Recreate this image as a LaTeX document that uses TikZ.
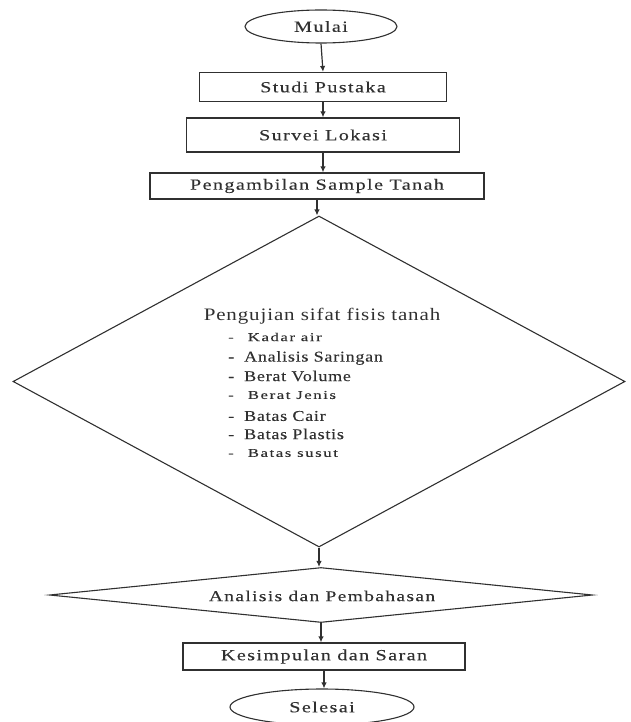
\documentclass[tikz,border=0pt]{standalone}
\usepackage{fontspec}
\setmainfont{Liberation Serif}
\newfontfamily\boxfont{Liberation Serif}[FakeStretch=1.3,LetterSpace=9,FakeBold=0.2]
\newfontfamily\titlefont{Liberation Serif}[FakeStretch=1.2,LetterSpace=5]
\newfontfamily\itemfont{Liberation Serif}[FakeStretch=1.2,LetterSpace=5,FakeBold=0.2]
\newfontfamily\smallfont{Liberation Serif}[FakeStretch=1.4,LetterSpace=13,FakeBold=0.2]
\usetikzlibrary{shapes.geometric,arrows.meta}
\definecolor{ink}{HTML}{303030}
\tikzset{
  x=1pt,y=-1pt,
  every node/.style={text=ink},
  termbox/.style={ellipse,draw=ink,line width=1.1pt,inner sep=0pt,font=\boxfont\fontsize{15.5}{17}\selectfont},
  procbox/.style={rectangle,draw=ink,line width=1.2pt,inner sep=0pt,font=\boxfont\fontsize{15.5}{17}\selectfont},
  decbox/.style={diamond,draw=ink,line width=1.1pt,inner sep=0pt,aspect=1},
  conn/.style={draw=ink,line width=1.2pt,-{Latex[length=6pt,width=5.5pt]}},
  item/.style={anchor=west,inner sep=0pt,font=\itemfont\fontsize{15}{16}\selectfont},
  smallitem/.style={anchor=west,inner sep=0pt,font=\smallfont\fontsize{12}{13}\selectfont}
}
\begin{document}
\begin{tikzpicture}
\useasboundingbox (0,0) rectangle (631,722);
\node[termbox,minimum width=152,minimum height=33] (mulai) at (321,26.5) {Mulai};
\node[procbox,minimum width=247,minimum height=29] (studi) at (323,87) {Studi Pustaka};
\node[procbox,minimum width=273,minimum height=34] (survei) at (323,135) {Survei Lokasi};
\node[procbox,minimum width=334,minimum height=26] (ambil) at (317,186) {Pengambilan Sample Tanah};
\node[decbox,minimum width=612,minimum height=331] (uji) at (319,381.5) {};
\node[inner sep=0pt,font=\titlefont\fontsize{17.5}{19}\selectfont] (judul) at (322,316) {Pengujian sifat fisis tanah};
\node[smallitem] (i1) at (228,337) {-\hspace{14pt}Kadar air};
\node[item] (i2) at (228,358) {-\hspace{10pt}Analisis Saringan};
\node[item] (i3) at (228,376) {-\hspace{10pt}Berat Volume};
\node[smallitem] (i4) at (228,395) {-\hspace{14pt}Berat Jenis};
\node[item] (i5) at (228,416) {-\hspace{10pt}Batas Cair};
\node[item] (i6) at (228,434) {-\hspace{10pt}Batas Plastis};
\node[smallitem] (i7) at (228,453) {-\hspace{14pt}Batas susut};
\node[decbox,minimum width=543,minimum height=55] (anal) at (321,595) {};
\node[inner sep=0pt,font=\boxfont\fontsize{15}{17}\selectfont] (analt) at (322,596) {Analisis dan Pembahasan};
\node[procbox,minimum width=282,minimum height=27] (simpul) at (324,656.5) {Kesimpulan dan Saran};
\node[termbox,minimum width=184,minimum height=36] (selesai) at (322,707) {Selesai};
\draw[conn] (mulai.south) -- (studi.north);
\draw[conn] (studi.south) -- (studi.south |- survei.north);
\draw[conn] (survei.south) -- (survei.south |- ambil.north);
\draw[conn] (ambil.south) -- (ambil.south |- uji.north);
\draw[conn] (uji.south) -- (uji.south |- anal.north);
\draw[conn] (anal.south) -- (anal.south |- simpul.north);
\draw[conn] (simpul.south) -- (simpul.south |- selesai.north);
\end{tikzpicture}
\end{document}
